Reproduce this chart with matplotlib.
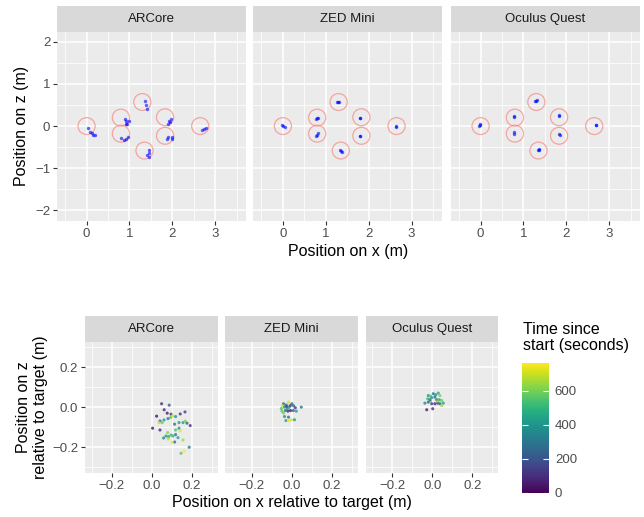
import numpy as np
import matplotlib
matplotlib.use("Agg")
import matplotlib.pyplot as plt
from matplotlib.patches import Circle
from matplotlib.ticker import FuncFormatter
from matplotlib.cm import ScalarMappable
from matplotlib.colors import Normalize

plt.rcParams['font.family'] = ['Liberation Sans', 'DejaVu Sans']

devices = ['ARCore', 'ZED Mini', 'Oculus Quest']

# target positions (m)
target_x = [0.0, 0.8, 0.8, 1.3, 1.35, 1.83, 1.83, 2.65]
target_z = [0.0, 0.2, -0.18, 0.57, -0.58, 0.21, -0.23, 0.0]
target_r = 0.2

# measured positions (top plot)
top_x = {
    'ARCore': [0.03, 0.09, 0.13, 0.16, 0.19, 0.89, 0.91, 0.93, 0.95, 0.99,
               0.80, 0.87, 0.93, 0.97, 1.36, 1.39, 1.42, 1.45, 1.46, 1.42, 1.46,
               1.90, 1.93, 1.96, 1.95, 1.88, 1.89, 1.99, 1.99, 2.70, 2.74, 2.78],
    'ZED Mini': [-0.01, 0.01, 0.04, 0.78, 0.81, 0.79, 0.78, 0.81, 0.80, 1.27, 1.31, 1.29,
                 1.33, 1.37, 1.35, 1.79, 1.80, 1.80, 1.79, 2.63, 2.64],
    'Oculus Quest': [-0.03, -0.01, -0.02, 0.78, 0.78, 0.78, 0.79, 1.28, 1.31, 1.30,
                     1.35, 1.37, 1.36, 1.83, 1.83, 1.83, 1.84, 2.69, 2.68],
}
top_z = {
    'ARCore': [-0.05, -0.15, -0.16, -0.22, -0.21, 0.16, 0.12, 0.06, 0.05, 0.11,
               -0.28, -0.34, -0.30, -0.27, 0.59, 0.51, 0.41, -0.57, -0.64, -0.68, -0.73,
               0.06, 0.11, 0.16, 0.09, -0.30, -0.26, -0.31, -0.27, -0.09, -0.06, -0.05],
    'ZED Mini': [0.02, 0.0, -0.01, 0.17, 0.20, 0.18, -0.23, -0.17, -0.20, 0.58, 0.56, 0.57,
                 -0.56, -0.62, -0.59, 0.19, 0.20, -0.23, -0.24, -0.01, 0.0],
    'Oculus Quest': [0.01, 0.04, 0.03, 0.21, 0.25, -0.15, -0.18, 0.59, 0.62, 0.60,
                     -0.56, -0.56, -0.55, 0.24, 0.27, -0.19, -0.20, 0.02, 0.03],
}

# position relative to target (bottom plot) and time since start (s)
rel_x = {
    'ARCore': [0.050, 0.088, 0.063, 0.078, 0.097, 0.025, 0.105, 0.120, 0.082, 0.143,
               0.167, 0.042, 0.062, 0.095, 0.038, 0.053, 0.137, 0.157, 0.168, 0.177,
               0.193, 0.115, 0.137, 0.005, 0.042, 0.120, 0.143, 0.080, 0.097, 0.120,
               0.085, 0.072, 0.060, 0.107, 0.083, 0.132, 0.157, 0.115, 0.103, 0.188,
               0.163, 0.147],
    'ZED Mini': [-0.017, -0.042, -0.028, 0.0, -0.053, -0.047, -0.037, -0.025, -0.013, 0.008,
                 0.017, 0.022, 0.047, -0.033, -0.020, -0.042, -0.007, 0.007, -0.017, -0.037,
                 -0.030, -0.017, -0.003, 0.013, -0.050, -0.023, -0.008, -0.030],
    'Oculus Quest': [-0.020, -0.008, 0.005, 0.017, 0.030, 0.038, -0.023, -0.003, 0.013, 0.022,
                     0.035, 0.047, -0.037, -0.020, -0.003, 0.013, 0.027, 0.038, 0.055, 0.047,
                     -0.010, -0.028, 0.002, 0.027, -0.012],
}
rel_z = {
    'ARCore': [0.017, 0.010, -0.013, -0.030, -0.035, -0.045, -0.044, -0.047, -0.057, -0.034,
               -0.024, -0.069, -0.064, -0.052, -0.077, -0.077, -0.077, -0.077, -0.070, -0.080,
               -0.092, -0.085, -0.105, -0.105, -0.114, -0.114, -0.119, -0.127, -0.139, -0.137,
               -0.147, -0.144, -0.154, -0.144, -0.159, -0.152, -0.164, -0.174, -0.176, -0.200,
               -0.219, -0.230],
    'ZED Mini': [0.025, 0.017, 0.013, 0.017, -0.007, 0.007, 0.0, 0.003, 0.0, 0.007,
                 -0.003, -0.020, 0.0, -0.017, -0.020, -0.030, -0.017, -0.017, -0.050, -0.047,
                 -0.067, -0.067, -0.063, -0.063, -0.020, -0.008, 0.008, 0.008],
    'Oculus Quest': [0.058, 0.055, 0.067, 0.062, 0.070, 0.058, 0.042, 0.047, 0.050, 0.037,
                     0.037, 0.033, 0.020, 0.025, 0.017, 0.017, 0.020, 0.017, 0.020, 0.008,
                     0.030, -0.013, -0.008, 0.030, 0.037],
}
rel_t = {
    'ARCore': [100, 220, 80, 60, 130, 40, 720, 380, 280, 110,
               150, 260, 400, 560, 700, 580, 420, 440, 600, 250,
               120, 300, 380, 50, 90, 540, 740, 620, 520, 280,
               450, 410, 360, 500, 690, 430, 650, 240, 730, 310,
               760, 560],
    'ZED Mini': [720, 260, 580, 290, 540, 700, 400, 100, 420, 240,
                 120, 440, 300, 270, 80, 600, 60, 220, 280, 380,
                 430, 740, 710, 450, 560, 360, 150, 250],
    'Oculus Quest': [420, 560, 300, 380, 450, 600, 520, 400, 260, 280,
                     440, 580, 360, 240, 120, 80, 150, 220, 430, 650,
                     540, 60, 100, 620, 290],
}

W, H = 644, 517
fig = plt.figure(figsize=(W / 100, H / 100), dpi=100)


def box(l, t, r, b):
    return [l / W, 1 - b / H, (r - l) / W, (b - t) / H]


panel_bg = '#EBEBEB'
strip_bg = '#D9D9D9'
tick_col = '#4D4D4D'
fs_tick = 9.5
fs_title = 11.5
minus = FuncFormatter(lambda v, p: ('%g' % v).replace('-', '\u2212'))
minus1 = FuncFormatter(lambda v, p: ('%.1f' % v).replace('-', '\u2212'))


def style_panel(ax, xmaj, xmin, ymaj, ymin, left, fmt):
    ax.set_facecolor(panel_bg)
    for s in ax.spines.values():
        s.set_visible(False)
    ax.set_xticks(xmaj)
    ax.set_xticks(xmin, minor=True)
    ax.set_yticks(ymaj)
    ax.set_yticks(ymin, minor=True)
    ax.grid(which='major', color='white', lw=1.1)
    ax.grid(which='minor', color='white', lw=0.55)
    ax.set_axisbelow(True)
    ax.tick_params(which='minor', length=0)
    ax.tick_params(which='major', length=2.7, width=0.8, color='#333333',
                   labelsize=fs_tick, labelcolor=tick_col, pad=2.2)
    ax.xaxis.set_major_formatter(fmt)
    ax.yaxis.set_major_formatter(fmt)
    if not left:
        ax.tick_params(axis='y', left=False, labelleft=False)


def strip(l, t, r, b, label):
    sax = fig.add_axes(box(l, t, r, b))
    sax.set_facecolor(strip_bg)
    sax.set_xticks([])
    sax.set_yticks([])
    for s in sax.spines.values():
        s.set_visible(False)
    sax.text(0.5, 0.5, label, ha='center', va='center', fontsize=fs_tick,
             color='#1A1A1A', transform=sax.transAxes)


# ---- top plot ----
top_lefts = [57, 253.3, 451]
pw = 188.7
for i, dev in enumerate(devices):
    l = top_lefts[i]
    ax = fig.add_axes(box(l, 32, l + pw, 221))
    style_panel(ax, [0, 1, 2, 3], [-0.5, 0.5, 1.5, 2.5, 3.5],
                [-2, -1, 0, 1, 2], [-1.5, -0.5, 0.5, 1.5], i == 0, minus)
    for cx, cz in zip(target_x, target_z):
        ax.add_patch(Circle((cx, cz), target_r, fill=False, edgecolor='#F8766D',
                            lw=0.9, alpha=0.6))
    ax.scatter(top_x[dev], top_z[dev], s=6, color='blue', alpha=0.6, lw=0)
    ax.set_xlim(-0.69, 3.71)
    ax.set_ylim(-2.25, 2.23)
    strip(l, 6, l + pw, 32, dev)

fig.text(348.5 / W, 1 - 251.7 / H, 'Position on x (m)', ha='center', va='center',
         fontsize=fs_title)
fig.text(22 / W, 1 - 126 / H, 'Position on z (m)', ha='center', va='center',
         rotation=90, fontsize=fs_title)

# ---- bottom plot ----
bot_lefts = [85, 225.3, 365.7]
bw = 132.6
norm = Normalize(vmin=0, vmax=762)
for i, dev in enumerate(devices):
    l = bot_lefts[i]
    ax = fig.add_axes(box(l, 342, l + bw, 473.3))
    style_panel(ax, [-0.2, 0.0, 0.2], [-0.3, -0.1, 0.1, 0.3],
                [-0.2, 0.0, 0.2], [-0.3, -0.1, 0.1, 0.3], i == 0, minus1)
    ax.scatter(rel_x[dev], rel_z[dev], c=rel_t[dev], cmap='viridis', norm=norm,
               s=5, alpha=0.8, lw=0)
    ax.set_xlim(-0.333, 0.33)
    ax.set_ylim(-0.33, 0.325)
    strip(l, 316, l + bw, 342, dev)

fig.text(291.5 / W, 1 - 503 / H, 'Position on x relative to target (m)',
         ha='center', va='center', fontsize=fs_title)
fig.text(32 / W, 1 - 407.5 / H, 'Position on z\nrelative to target (m)',
         ha='center', va='center', rotation=90, fontsize=fs_title, linespacing=1.1)

# colour bar
cax = fig.add_axes(box(521.7, 363.3, 549.3, 492.7))
cb = fig.colorbar(ScalarMappable(norm=norm, cmap='viridis'), cax=cax,
                  ticks=[0, 200, 400, 600])
cb.outline.set_visible(False)
cax.tick_params(direction='in', length=4.5, width=0.8, color='white',
                left=True, right=True, labelsize=fs_tick, labelcolor=tick_col, pad=4)
fig.text(523 / W, 1 - 322 / H, 'Time since\nstart (seconds)', ha='left', va='top',
         fontsize=fs_title, linespacing=1.05)

fig.savefig('out.png', dpi=100)
